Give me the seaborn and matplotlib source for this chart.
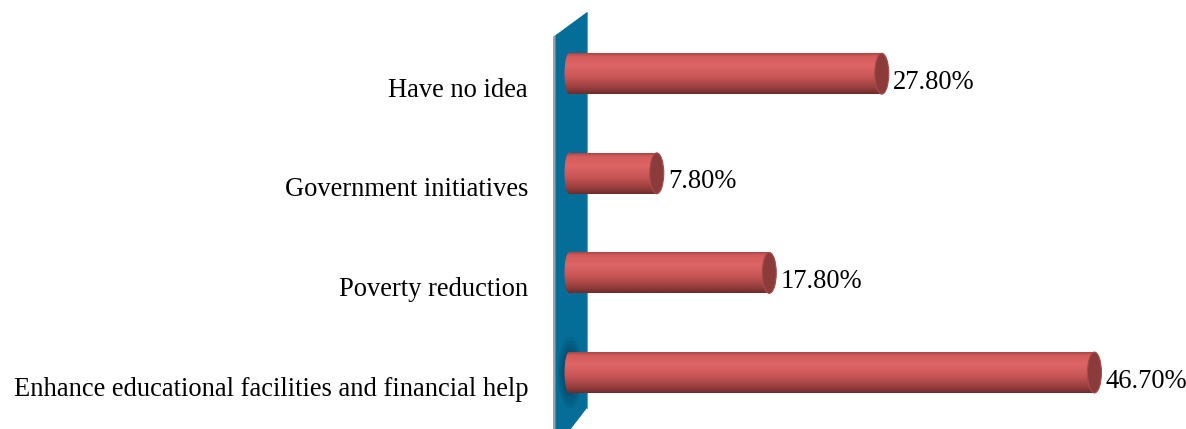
import numpy as np
import pandas as pd
import matplotlib
matplotlib.use("Agg")
import matplotlib.pyplot as plt
import seaborn as sns
from matplotlib.colors import LinearSegmentedColormap
from matplotlib.patches import Ellipse, Polygon
from matplotlib.transforms import ScaledTranslation

categories = ["Have no idea", "Government initiatives", "Poverty reduction",
              "Enhance educational facilities and financial help"]
values = [27.8, 7.8, 17.8, 46.7]
value_labels = ["27.80%", "7.80%", "17.80%", "46.70%"]

sns.set_theme(style="white")
plt.rcParams['font.family'] = ['Liberation Serif', 'DejaVu Serif']

W, H = 1186, 429
fig = plt.figure(figsize=(W / 100, H / 100), dpi=100)
ax = fig.add_axes([553 / W, 0, 1 - 553 / W, 1])

df = pd.DataFrame({"category": categories, "value": values})
sns.barplot(data=df, x="value", y="category", orient="h", color="#d35b5b",
            saturation=1, width=0.41, ax=ax, zorder=3)

XMIN, XMAX = -1.422, 54.84
YTOP, YBOT = -0.74, 3.567
PXX = 11.25  # px per unit x
FS = 19.1

# wall (floor-standing back panel)
wall = Polygon([(XMIN, 3.8), (XMIN, -0.368), (1.6, -0.619), (1.6, 3.356)],
               closed=True, facecolor="#046e99", edgecolor="none", zorder=1)
ax.add_patch(wall)
edge = Polygon([(XMIN, 3.8), (XMIN, -0.368), (XMIN + 0.22, -0.386), (XMIN + 0.22, 3.8)],
               closed=True, facecolor="#9aa3a8", edgecolor="none", zorder=1.1)
ax.add_patch(edge)
ax.plot([1.6, 1.6], [-0.619, 3.356], color="#5aa0c0", lw=0.8, zorder=1.1)

# soft shadow on wall behind bottom bar
for k in range(8):
    s = 1 - k / 8
    ax.add_patch(Ellipse((0.1, 3.0), 1.9 * s + 0.3, 0.62 * s + 0.1,
                         facecolor="#062f48", edgecolor="none", alpha=0.12, zorder=1.2))

cmap = LinearSegmentedColormap.from_list("cyl", [
    (0.0, "#a84646"), (0.08, "#d45b5b"), (0.3, "#df6565"),
    (0.6, "#c65454"), (0.85, "#973e3e"), (1.0, "#6c2b2b")])
grad = np.linspace(0, 1, 256).reshape(-1, 1)

cap_w = 14 / PXX
for i, p in enumerate(list(ax.patches)[:len(values)]):
    x0, y0, w, h = p.get_x(), p.get_y(), p.get_width(), p.get_height()
    p.set_facecolor("none")
    p.set_edgecolor("none")
    im = ax.imshow(grad, cmap=cmap, aspect="auto", origin="upper",
                   extent=(x0, x0 + w, y0 + h, y0), zorder=3, interpolation="bilinear")
    im.set_clip_path(p)
    # left cap
    lc = Ellipse((x0, y0 + h / 2), 9 / PXX, h, facecolor="none",
                 edgecolor="none", zorder=3.5)
    ax.add_patch(lc)
    im2 = ax.imshow(grad, cmap=cmap, aspect="auto", origin="upper",
                    extent=(x0 - cap_w, x0 + cap_w, y0 + h, y0), zorder=3.4,
                    interpolation="bilinear")
    im2.set_clip_path(lc)
    # right cap
    ax.add_patch(Ellipse((x0 + w, y0 + h / 2), cap_w, h, facecolor="#8c3b3b",
                         edgecolor="#a94a4a", lw=0.8, zorder=4))
    # value label
    ax.text(x0 + w, i, value_labels[i], ha="left", va="baseline",
            fontsize=FS, color="black", zorder=5,
            transform=ax.transData + ScaledTranslation(0.11, -0.15, fig.dpi_scale_trans))

ax.set_xlim(XMIN, XMAX)
ax.set_ylim(YBOT, YTOP)
ax.set_xticks([])
ax.set_xlabel("")
ax.set_ylabel("")
ax.tick_params(axis="y", length=0, pad=18, labelsize=FS, labelcolor="black")
for lab in ax.get_yticklabels():
    lab.set_verticalalignment("baseline")
    lab.set_transform(lab.get_transform() + ScaledTranslation(0, -0.23, fig.dpi_scale_trans))
for s in ax.spines.values():
    s.set_visible(False)
ax.set_facecolor("none")
fig.patch.set_facecolor("white")

fig.savefig("out.png", dpi=100)
